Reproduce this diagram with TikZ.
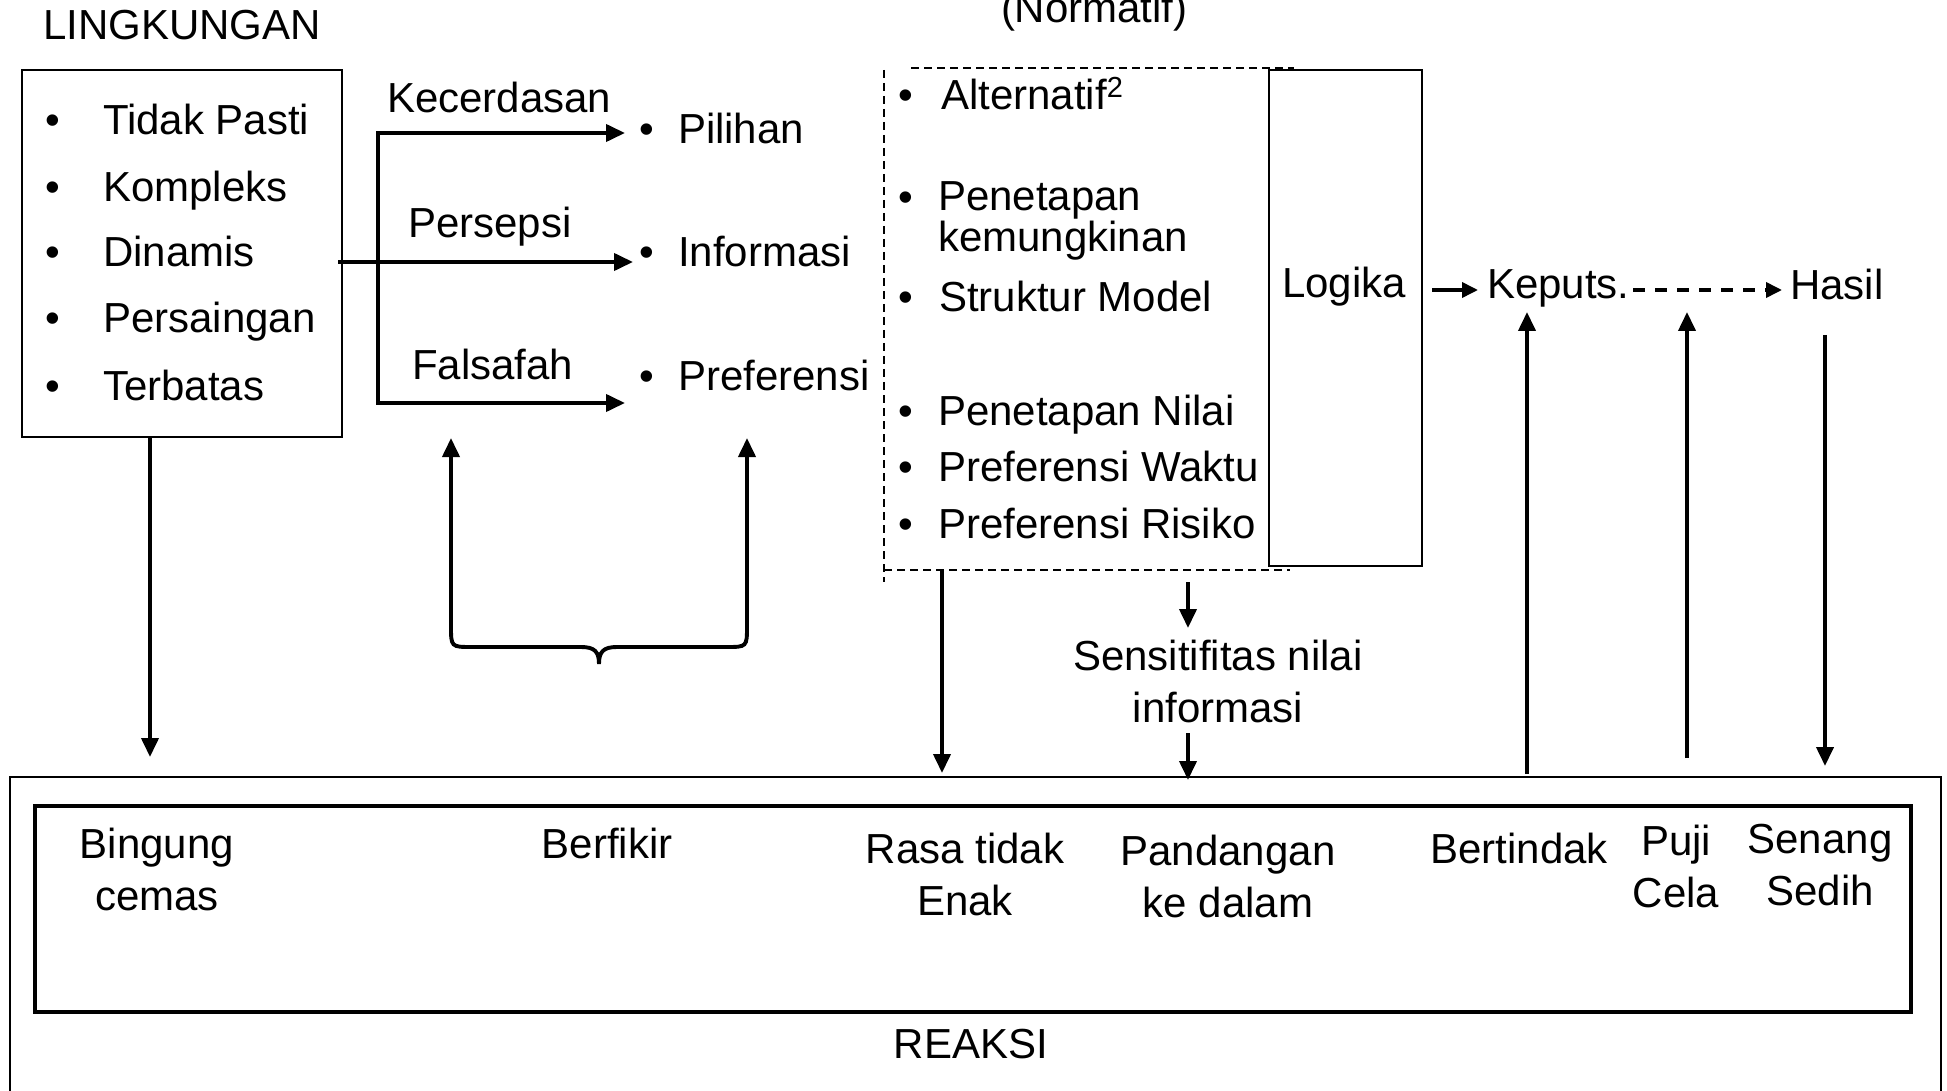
\documentclass[tikz,border=0pt]{standalone}
\usepackage{fontspec}
\setmainfont{Liberation Sans}
\usetikzlibrary{arrows.meta}
\begin{document}
\begin{tikzpicture}[x=1pt,y=-1pt,
  every node/.style={font=\fontsize{42}{52}\selectfont, inner sep=0pt, outer sep=0pt},
  lbl/.style={anchor=base west},
  bul/.style={anchor=base},
  two/.style={align=center, anchor=north},
  tip/.tip={Triangle[length=19pt,width=17pt]},
  arr/.style={line width=3.9pt, -tip},
  frame/.style={draw, line width=2.4pt},
  dline/.style={line width=2pt, dash pattern=on 8pt off 5pt},
]
\useasboundingbox (0,0) rectangle (1947,1091);

% ---------- LINGKUNGAN ----------
\node[lbl] (ling) at (43,40) {LINGKUNGAN};
\node[frame, anchor=north west, minimum width=320pt, minimum height=367pt] (lbox) at (22,70) {};
\foreach \n/\t/\y in {a/Tidak Pasti/135, b/Kompleks/202, c/Dinamis/267, d/Persaingan/333, e/Terbatas/400}{
  \node[bul] (lb\n) at (53,\y) {•};
  \node[lbl] (lt\n) at (103,\y) {\t};
}

% ---------- arrow labels ----------
\node[lbl] (kec) at (387,113) {Kecerdasan};
\node[lbl] (per) at (408,238) {Persepsi};
\node[lbl] (fal) at (412,379) {Falsafah};

% ---------- Pilihan / Informasi / Preferensi ----------
\node[bul] (pb1) at (647,144) {•}; \node[lbl] (pil) at (678,144) {Pilihan};
\node[bul] (pb2) at (647,267) {•}; \node[lbl] (inf) at (678,267) {Informasi};
\node[bul] (pb3) at (647,390) {•}; \node[lbl] (pref) at (678,390) {Preferensi};

% ---------- Normatif block ----------
\node[lbl] (norm) at (1001,23) {(Normatif)};
\node[bul] (db1) at (906,110) {•};
\node[lbl] (alt) at (941,110) {Alternatif\raisebox{12pt}{\fontsize{29}{29}\selectfont 2}};
\node[bul] (db2) at (906,212) {•};
\node[anchor=north west, align=left, font=\fontsize{42}{41}\selectfont] (pen) at (938,182) {Penetapan\\kemungkinan};
\node[bul] (db3) at (906,312) {•}; \node[lbl] (str) at (939,312) {Struktur Model};
\node[bul] (db4) at (906,425) {•}; \node[lbl] (pnil) at (938,425) {Penetapan Nilai};
\node[bul] (db5) at (906,481) {•}; \node[lbl] (pwak) at (938,481) {Preferensi Waktu};
\node[bul] (db6) at (906,538) {•}; \node[lbl] (pris) at (938,538) {Preferensi Risiko};

\coordinate (dtl) at (884,70); \coordinate (dbl) at (884,582);
\draw[dline] (dtl) -- (dbl);
\coordinate (dt1) at (911,68); \coordinate (dt2) at (1294,68);
\draw[dline] (dt1) -- (dt2);
\coordinate (db1s) at (884,570); \coordinate (db2s) at (1290,570);
\draw[dline] (db1s) -- (db2s);

\node[frame, fill=white, anchor=north west, minimum width=153pt, minimum height=496pt] (lgbox) at (1269,70) {};
\node[lbl] (log) at (1282,298) {Logika};
\node[lbl] (kep) at (1487,299) {Keputs.};
\node[lbl] (has) at (1790,300) {Hasil};

\node[two] (sens) at (1218,640) {Sensitifitas nilai\\informasi};

% ---------- REAKSI ----------
\node[draw, line width=2.4pt, anchor=north west, minimum width=1931pt, minimum height=340pt] (outer) at (10,777) {};
\node[draw, line width=3.2pt, anchor=north west, minimum width=1876pt, minimum height=206pt] (inner) at (35,806) {};
\node[two] (bing) at (157,828) {Bingung\\cemas};
\node[bul] (berf) at (607,858) {Berfikir};
\node[two] (rasa) at (965,833) {Rasa tidak\\Enak};
\node[two] (pand) at (1228,835) {Pandangan\\ke dalam};
\node[bul] (bert) at (1519,863) {Bertindak};
\node[two] (puji) at (1676,825) {Puji\\Cela};
\node[two] (sen) at (1820,824) {Senang\\Sedih};
\node[bul] (reaksi) at (971,1058) {REAKSI};

% ---------- connectors ----------
\coordinate (vtop) at (378,133); \coordinate (vbot) at (378,403);
\coordinate (k1) at (625,133); \coordinate (k3) at (625,403);
\draw[line width=3.9pt, line join=miter, tip-tip] (k1) -- (vtop) -- (vbot) -- (k3);
\coordinate (k0) at (338,262); \coordinate (k2) at (633,262);
\draw[arr] (k0) -- (k2);

\coordinate (lout) at (150,437); \coordinate (lin) at (150,757);
\draw[arr] (lout) -- (lin);

\coordinate (brL) at (451,438); \coordinate (brR) at (747,438);
\draw[line width=3.9pt, tip-tip] (brL) -- (451,626) .. controls (451,647) .. (472,647) -- (581,647)
  .. controls (595,647) and (599,652) .. (599,664) .. controls (599,652) and (603,647) .. (617,647)
  -- (726,647) .. controls (747,647) .. (747,626) -- (brR);

\coordinate (a1s) at (942,570); \coordinate (a1e) at (942,773);
\draw[arr] (a1s) -- (a1e);
\coordinate (a2s) at (1188,582); \coordinate (a2e) at (1188,628);
\draw[arr] (a2s) -- (a2e);
\coordinate (a3s) at (1188,733); \coordinate (a3e) at (1188,780);
\draw[arr] (a3s) -- (a3e);

\coordinate (u1s) at (1527,774); \coordinate (u1e) at (1527,312);
\draw[arr] (u1s) -- (u1e);
\coordinate (u2s) at (1687,758); \coordinate (u2e) at (1687,312);
\draw[arr] (u2s) -- (u2e);
\coordinate (d1s) at (1825,335); \coordinate (d1e) at (1825,766);
\draw[arr] (d1s) -- (d1e);

\coordinate (lgout) at (1432,290); \coordinate (kepin) at (1478,290);
\draw[line width=3.6pt, -{Triangle[length=16pt,width=15pt]}] (lgout) -- (kepin);
\coordinate (kepout) at (1633,290); \coordinate (hasin) at (1782,290);
\draw[line width=3.6pt, dash pattern=on 12pt off 10pt, -{Triangle[length=16pt,width=15pt]}] (kepout) -- (hasin);
\end{tikzpicture}
\end{document}
